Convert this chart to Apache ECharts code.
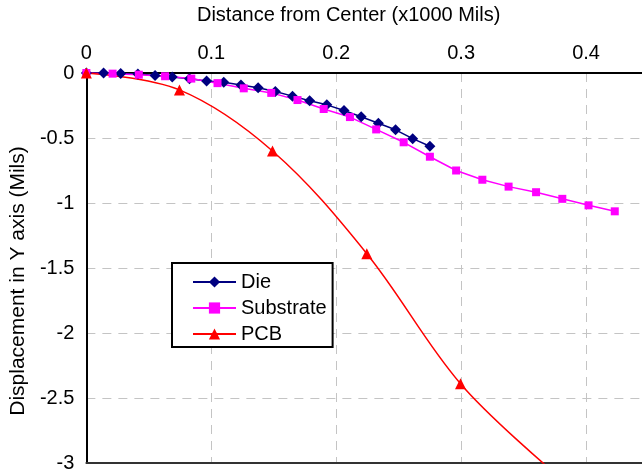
<!DOCTYPE html>
<html>
<head>
<meta charset="utf-8">
<script src="https://cdn.jsdelivr.net/npm/echarts@6/dist/echarts.min.js"></script>
<style>
  html, body { margin: 0; padding: 0; background: #fff; }
  #chart { width: 642px; height: 473px; }
</style>
</head>
<body>
<div id="chart"></div>
<script>
// 数据
const dieX = [0, 0.01375, 0.0275, 0.04125, 0.055, 0.06875, 0.0825, 0.09625, 0.11, 0.12375, 0.1375,
  0.15125, 0.165, 0.17875, 0.1925, 0.20625, 0.22, 0.23375, 0.2475, 0.26125, 0.275];
const dieY = [0, 0, -0.003, -0.008, -0.02, -0.03, -0.045, -0.062, -0.072, -0.093, -0.113,
  -0.143, -0.178, -0.214, -0.245, -0.289, -0.336, -0.386, -0.437, -0.505, -0.563];

const subX = [0, 0.021, 0.042, 0.063, 0.084, 0.105, 0.126, 0.148, 0.169, 0.19, 0.211,
  0.232, 0.254, 0.275, 0.296, 0.317, 0.338, 0.36, 0.381, 0.402, 0.423];
const subY = [0, -0.005, -0.013, -0.025, -0.043, -0.078, -0.118, -0.153, -0.208, -0.277, -0.339,
  -0.434, -0.533, -0.644, -0.75, -0.821, -0.874, -0.917, -0.968, -1.018, -1.064];

const pcbX = [0, 0.0745, 0.149, 0.2245, 0.2995, 0.374];
const pcbY = [0, -0.13, -0.6, -1.39, -2.39, -3.07];

const pairs = (xs, ys) => xs.map((x, i) => [x, ys[i]]);

const font = 'Liberation Sans, Arial, sans-serif';
const gridLine = { show: true, lineStyle: { color: '#c4c4c4', type: [9, 7], width: 1 } };

const myChart = echarts.init(document.getElementById('chart'));
myChart.setOption({
  animation: false,
  textStyle: { fontFamily: font },
  grid: { left: 86, top: 68, right: 0, bottom: 8 },
  legend: {
    orient: 'vertical',
    left: 172,
    top: 263,
    padding: [9, 6, 3, 20],
    itemWidth: 43,
    itemHeight: 14,
    itemGap: 6,
    backgroundColor: '#fff',
    borderColor: '#000',
    borderWidth: 2,
    borderRadius: 0,
    textStyle: { fontSize: 20, color: '#000', fontFamily: font, lineHeight: 20 },
    data: ['Die', 'Substrate', 'PCB']
  },
  xAxis: [
    {
      type: 'value',
      position: 'top',
      min: 0,
      max: 0.4448,
      interval: 0.1,
      name: 'Distance from Center (x1000 Mils)',
      nameLocation: 'middle',
      nameGap: 48,
      nameTextStyle: { fontSize: 20, color: '#000', padding: [0, 31, 0, 0] },
      axisLine: { show: true, onZero: false, lineStyle: { color: '#000', width: 2 } },
      axisTick: { show: false },
      axisLabel: { fontSize: 20, color: '#000', margin: 10, showMaxLabel: false },
      splitLine: gridLine
    },
    {
      type: 'value',
      position: 'bottom',
      min: 0,
      max: 0.4448,
      axisLine: { show: true, onZero: false, lineStyle: { color: '#333', width: 2 } },
      axisTick: { show: false },
      axisLabel: { show: false },
      splitLine: { show: false }
    }
  ],
  yAxis: {
    type: 'value',
    min: -3,
    max: 0,
    interval: 0.5,
    name: 'Displacement in Y axis (Mils)',
    nameLocation: 'middle',
    nameGap: 55,
    nameTextStyle: { fontSize: 21, color: '#000', padding: [0, 26, 0, 0] },
    axisLine: { show: true, onZero: false, lineStyle: { color: '#000', width: 2 } },
    axisTick: { show: false },
    axisLabel: { fontSize: 20, color: '#000', margin: 12 },
    splitLine: gridLine
  },
  series: [
    {
      name: 'Die',
      type: 'line',
      data: pairs(dieX, dieY),
      symbol: 'diamond',
      symbolSize: 11,
      lineStyle: { color: '#000080', width: 1.5 },
      itemStyle: { color: '#000080' },
      z: 3
    },
    {
      name: 'Substrate',
      type: 'line',
      data: pairs(subX, subY),
      symbol: 'rect',
      symbolSize: 8,
      lineStyle: { color: '#ff00ff', width: 1.5 },
      itemStyle: { color: '#ff00ff' },
      z: 3
    },
    {
      name: 'PCB',
      type: 'line',
      data: pairs(pcbX, pcbY),
      smooth: 0.35,
      symbol: 'triangle',
      symbolSize: 11,
      lineStyle: { color: '#ff0000', width: 1.5 },
      itemStyle: { color: '#ff0000' },
      z: 3
    }
  ]
});
</script>
</body>
</html>
